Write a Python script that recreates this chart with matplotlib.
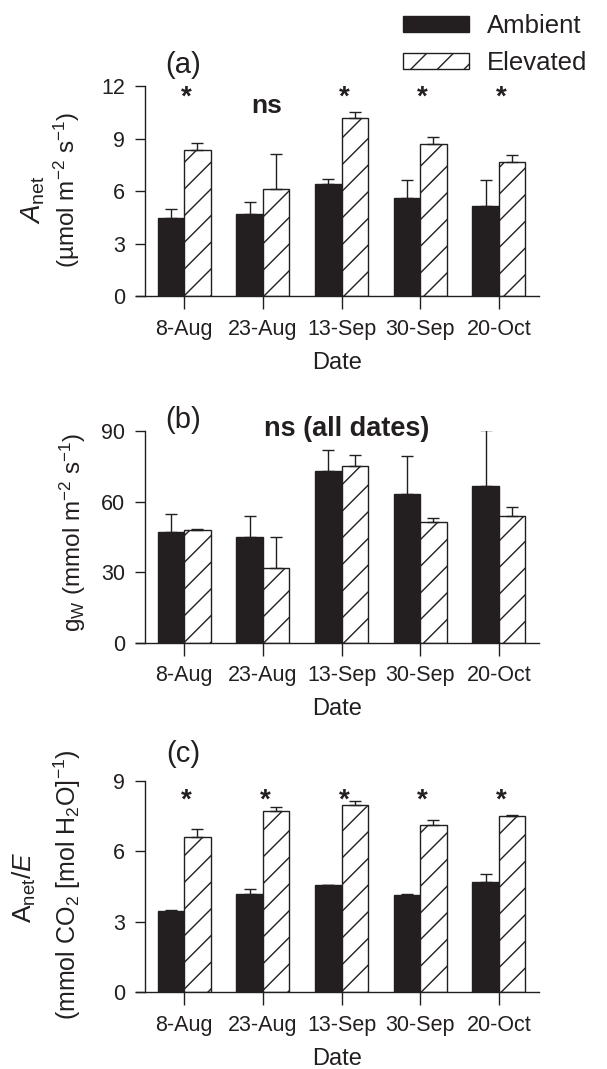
import numpy as np
import matplotlib
matplotlib.use('Agg')
import matplotlib.pyplot as plt

plt.rcParams['font.family'] = ['Liberation Sans', 'DejaVu Sans']
plt.rcParams['mathtext.fontset'] = 'custom'
plt.rcParams['mathtext.rm'] = 'Liberation Sans'
plt.rcParams['mathtext.it'] = 'Liberation Sans:italic'
plt.rcParams['mathtext.bf'] = 'Liberation Sans:bold'

# hatch spacing follows dpi, so draw at 80 dpi and scale point sizes back up
DPI = 80
S = 100 / DPI
plt.rcParams['hatch.linewidth'] = 1.0 * S

INK = '#231f20'

dates = ['8-Aug', '23-Aug', '13-Sep', '30-Sep', '20-Oct']

# (a) Anet
anet_amb = [4.45, 4.69, 6.42, 5.62, 5.16]
anet_amb_se = [0.52, 0.72, 0.27, 1.03, 1.47]
anet_elev = [8.36, 6.11, 10.17, 8.70, 7.66]
anet_elev_se = [0.38, 2.02, 0.34, 0.42, 0.44]
anet_sig = ['*', 'ns', '*', '*', '*']

# (b) gw
gw_amb = [46.9, 45.1, 73.0, 63.4, 66.5]
gw_amb_se = [7.7, 8.8, 8.9, 16.1, 23.9]
gw_elev = [47.9, 31.7, 75.0, 51.4, 53.9]
gw_elev_se = [0.3, 13.4, 4.8, 1.7, 3.6]

# (c) Anet/E
wue_amb = [3.46, 4.19, 4.56, 4.15, 4.68]
wue_amb_se = [0.03, 0.23, 0.02, 0.02, 0.36]
wue_elev = [6.60, 7.72, 7.99, 7.14, 7.51]
wue_elev_se = [0.34, 0.16, 0.17, 0.20, 0.04]
wue_sig = ['*', '*', '*', '*', '*']

W = 0.337
H = 1069.0


def panel(ax, amb, amb_se, elev, elev_se, ymax, yticks):
    x = np.arange(len(dates))
    b1 = ax.bar(x - W / 2, amb, W, color=INK, edgecolor=INK, lw=1 * S)
    b2 = ax.bar(x + W / 2, elev, W, color='white', edgecolor=INK, hatch='/', lw=1 * S)
    z = np.zeros(len(dates))
    ax.errorbar(x - W / 2, amb, yerr=[z, amb_se], fmt='none', ecolor=INK,
                elinewidth=1 * S, capsize=4.5 * S, capthick=1 * S)
    ax.errorbar(x + W / 2, elev, yerr=[z, elev_se], fmt='none', ecolor=INK,
                elinewidth=1 * S, capsize=4.5 * S, capthick=1 * S)
    ax.set_xlim(-0.611, 4.509)
    ax.set_ylim(0, ymax)
    ax.set_yticks(yticks)
    ax.set_xticks(x)
    ax.set_xticklabels(dates)
    ax.tick_params(axis='y', labelsize=15.5 * S, length=7 * S, width=1 * S,
                   color=INK, labelcolor=INK, pad=7 * S)
    ax.tick_params(axis='x', labelsize=15.5 * S, length=9 * S, width=1 * S,
                   color=INK, labelcolor=INK, pad=7 * S)
    for s in ['top', 'right']:
        ax.spines[s].set_visible(False)
    ax.spines['left'].set_position(('data', -0.5))
    for s in ['left', 'bottom']:
        ax.spines[s].set_color(INK)
        ax.spines[s].set_linewidth(1 * S)
    ax.patch.set_visible(False)
    ax.set_xlabel('Date', fontsize=17 * S, color=INK, labelpad=9 * S)
    return b1, b2


def box(top, bottom):
    return [136 / 607, 1 - bottom / H, (539 - 136) / 607, (bottom - top) / H]


fig = plt.figure(figsize=(607 / DPI, 1069 / DPI), dpi=DPI)

ax1 = fig.add_axes(box(86.3, 296.3))
b1, b2 = panel(ax1, anet_amb, anet_amb_se, anet_elev, anet_elev_se, 12, [0, 3, 6, 9, 12])
for i, s in enumerate(anet_sig):
    if s == '*':
        ax1.text(i + 0.03, 11.35, s, ha='center', va='center', fontsize=20 * S,
                 fontweight='bold', color=INK)
    else:
        ax1.text(i + 0.05, 10.9, s, ha='center', va='center', fontsize=19 * S,
                 fontweight='bold', color=INK)
ax1.text(-0.01, 13.2, '(a)', ha='center', va='center', fontsize=21 * S, color=INK)

ax2 = fig.add_axes(box(431, 642.7))
panel(ax2, gw_amb, gw_amb_se, gw_elev, gw_elev_se, 90, [0, 30, 60, 90])
ax2.text(2.06, 90.9, 'ns (all dates)', ha='center', va='center', fontsize=19.5 * S,
         fontweight='bold', color=INK)
ax2.text(-0.01, 94.7, '(b)', ha='center', va='center', fontsize=21 * S, color=INK)

ax3 = fig.add_axes(box(781, 992.3))
panel(ax3, wue_amb, wue_amb_se, wue_elev, wue_elev_se, 9, [0, 3, 6, 9])
for i, s in enumerate(wue_sig):
    ax3.text(i + 0.03, 8.17, s, ha='center', va='center', fontsize=20 * S,
             fontweight='bold', color=INK)
ax3.text(-0.01, 10.13, '(c)', ha='center', va='center', fontsize=21 * S, color=INK)

# y labels
fig.text(33 / 607, 1 - 200 / H, r'$\mathit{A}_{\mathrm{net}}$', rotation=90,
         ha='center', va='center', fontsize=20 * S, color=INK)
fig.text(67 / 607, 1 - 190 / H, '(\u00b5mol m$^{-2}$ s$^{-1}$)', rotation=90,
         ha='center', va='center', fontsize=17.5 * S, color=INK)
fig.text(73 / 607, 1 - 532 / H, r'g$_{\mathrm{W}}$ (mmol m$^{-2}$ s$^{-1}$)', rotation=90,
         ha='center', va='center', fontsize=17.5 * S, color=INK)
fig.text(24 / 607, 1 - 887 / H, r'A$_{\mathrm{net}}$/$\mathit{E}$', rotation=90,
         ha='center', va='center', fontsize=19 * S, color=INK)
fig.text(67 / 607, 1 - 885 / H, r'(mmol CO$_2$ [mol H$_2$O]$^{-1}$)', rotation=90,
         ha='center', va='center', fontsize=18 * S, color=INK)

fs_leg = 18.5 * S
fig.legend([b1, b2], ['Ambient', 'Elevated'], loc='upper left',
           bbox_to_anchor=(403 / 607, 1 - 14 / H), frameon=False, fontsize=fs_leg,
           borderpad=0, borderaxespad=0, handlelength=2.57, handleheight=0.58,
           handletextpad=0.7, labelspacing=0.52, labelcolor=INK)

fig.savefig('out.png', dpi=DPI)
